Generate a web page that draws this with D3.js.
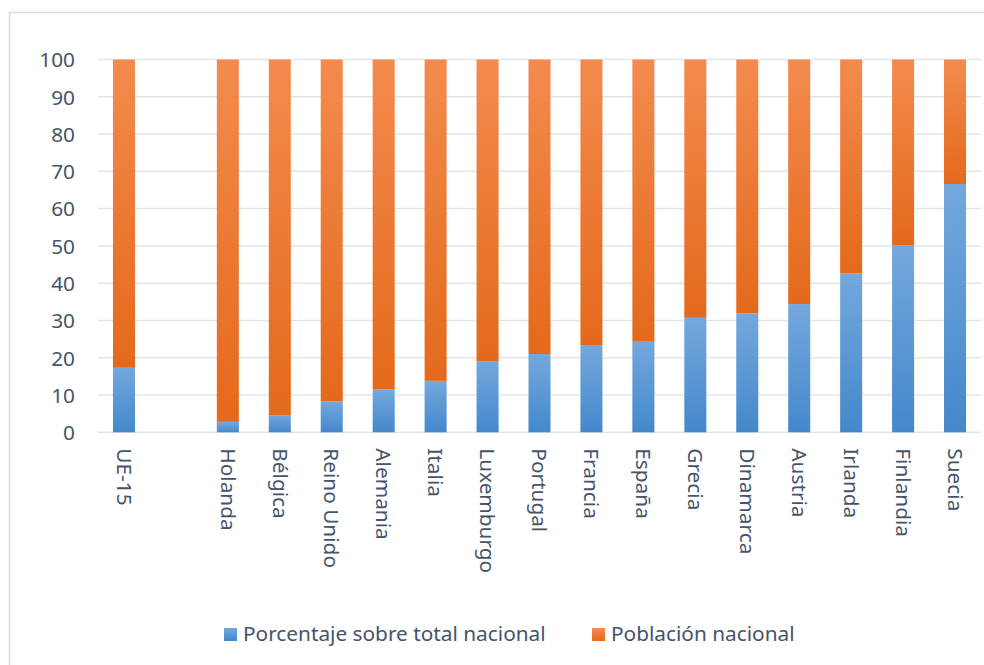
<!DOCTYPE html>
<html>
<head>
<meta charset="utf-8">
<script src="https://cdn.jsdelivr.net/npm/d3@7/dist/d3.min.js"></script>
<style>
  html, body { margin: 0; padding: 0; background: #fff; }
  svg { display: block; }
  text { font-family: "Noto Sans", "Open Sans", sans-serif; fill: #44546A; }
</style>
</head>
<body>
<svg id="chart" width="984" height="665"></svg>
<script>
// ---- data ----
const categories = ["UE-15", "", "Holanda", "Bélgica", "Reino Unido", "Alemania", "Italia",
  "Luxemburgo", "Portugal", "Francia", "España", "Grecia", "Dinamarca", "Austria",
  "Irlanda", "Finlandia", "Suecia"];
const porcentaje = [17.3, null, 2.8, 4.6, 8.3, 11.5, 13.8, 19.1, 21.0, 23.4, 24.3, 30.7, 31.9, 34.4, 42.6, 50.1, 66.6];
const poblacion  = [82.7, null, 97.2, 95.4, 91.7, 88.5, 86.2, 80.9, 79.0, 76.6, 75.7, 69.3, 68.1, 65.6, 57.4, 49.9, 33.4];
const seriesNames = ["Porcentaje sobre total nacional", "Población nacional"];
const yTicks = [0, 10, 20, 30, 40, 50, 60, 70, 80, 90, 100];

// ---- setup ----
const svg = d3.select("#chart");
const W = 984, H = 665;
const plot = { left: 98, right: 981, top: 59.5, bottom: 432.3 };
const fontSize = 20.8;

// frame
svg.append("rect")
  .attr("x", 9.5).attr("y", 12.5)
  .attr("width", W + 10).attr("height", H + 10)
  .attr("fill", "none").attr("stroke", "#D9DCE1").attr("stroke-width", 1.5);

const keys = categories.map((c, i) => c === "" ? "__blank" + i : c);
const x = d3.scaleBand().domain(keys).range([plot.left, plot.right])
  .paddingInner(0.576).paddingOuter(0.288);
const y = d3.scaleLinear().domain([0, 100]).range([plot.bottom, plot.top]);

// gradients
const defs = svg.append("defs");
function grad(id, top, bottom) {
  const g = defs.append("linearGradient").attr("id", id)
    .attr("x1", 0).attr("y1", 0).attr("x2", 0).attr("y2", 1);
  g.append("stop").attr("offset", "0%").attr("stop-color", top);
  g.append("stop").attr("offset", "100%").attr("stop-color", bottom);
}
grad("gBlue", "#74A8DD", "#4488CB");
grad("gOrange", "#F38B4E", "#E4691B");
const fills = ["url(#gBlue)", "url(#gOrange)"];

// gridlines
svg.append("g").selectAll("line").data(yTicks).join("line")
  .attr("x1", plot.left).attr("x2", plot.right)
  .attr("y1", d => y(d)).attr("y2", d => y(d))
  .attr("stroke", "#E1E5EA").attr("stroke-width", 1.5);

// y axis labels
const yAxis = d3.axisLeft(y).tickValues(yTicks).tickSize(0).tickPadding(0);
const gy = svg.append("g").attr("transform", "translate(75,0)").call(yAxis);
gy.select(".domain").remove();
gy.selectAll("text")
  .attr("font-size", fontSize)
  .attr("font-family", '"Noto Sans", sans-serif')
  .attr("fill", "#44546A")
  .attr("dy", "0.35em");

// stacked data
const rows = keys.map((k, i) => ({ key: k, a: porcentaje[i], b: poblacion[i] }))
  .filter(r => r.a !== null);
const stack = d3.stack().keys(["a", "b"])(rows);

svg.append("g").selectAll("g").data(stack).join("g")
  .attr("fill", (d, i) => fills[i])
  .selectAll("rect").data(d => d).join("rect")
  .attr("x", d => x(d.data.key))
  .attr("width", x.bandwidth())
  .attr("y", d => y(d[1]))
  .attr("height", d => y(d[0]) - y(d[1]));

// x labels (rotated)
const gx = svg.append("g").attr("transform", `translate(0,${plot.bottom})`)
  .call(d3.axisBottom(x).tickSize(0).tickFormat(k => k.startsWith("__blank") ? "" : k));
gx.select(".domain").remove();
gx.selectAll(".tick text")
  .attr("font-size", fontSize)
  .attr("font-family", '"Noto Sans", sans-serif')
  .attr("fill", "#44546A")
  .attr("text-anchor", "start")
  .attr("transform", "rotate(90)")
  .attr("x", 16).attr("y", 0).attr("dy", "0.35em");

// legend
const legendItems = [
  { name: seriesNames[0], fill: fills[0], x: 224 },
  { name: seriesNames[1], fill: fills[1], x: 592 }
];
const lg = svg.append("g");
legendItems.forEach(it => {
  lg.append("rect").attr("x", it.x).attr("y", 628).attr("width", 13).attr("height", 13)
    .attr("fill", it.fill);
  lg.append("text").attr("x", it.x + 19).attr("y", 641)
    .attr("font-size", fontSize).text(it.name);
});
</script>
</body>
</html>
